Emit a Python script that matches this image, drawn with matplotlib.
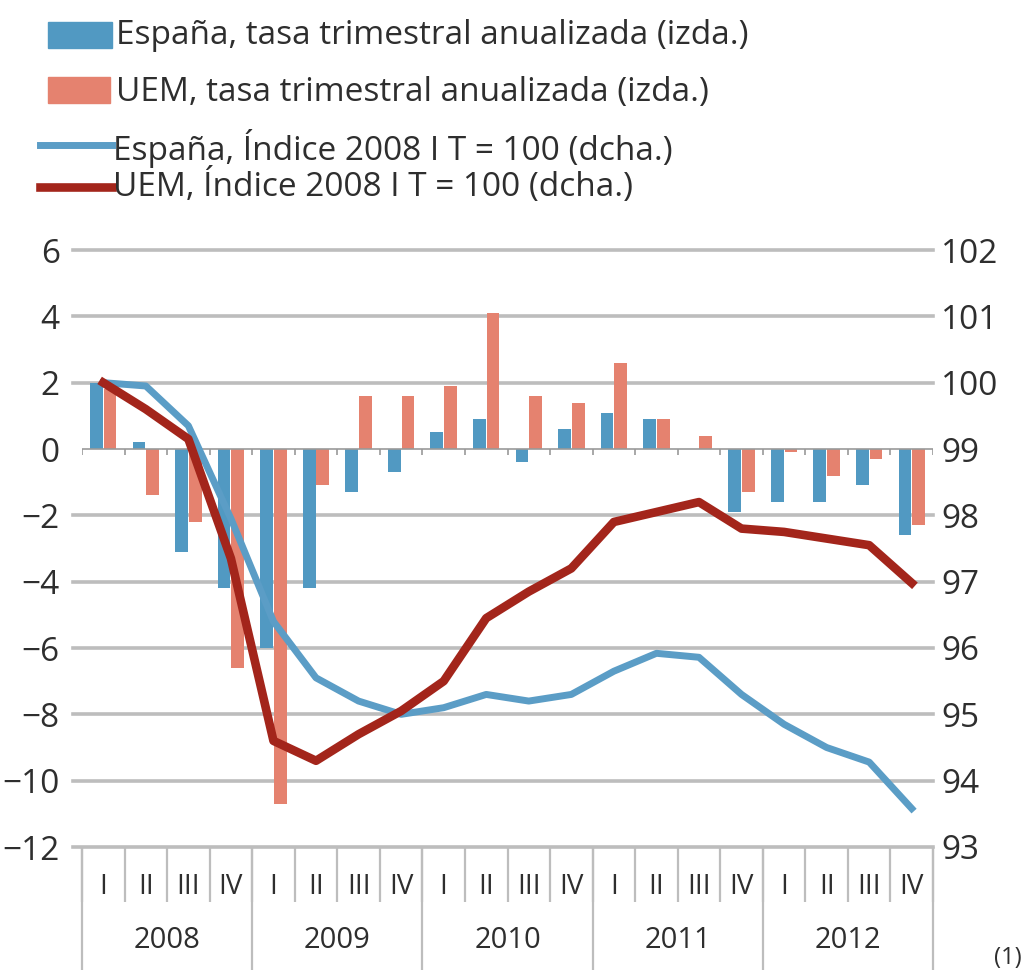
import numpy as np
import matplotlib
matplotlib.use("Agg")
import matplotlib.pyplot as plt
from matplotlib.patches import Rectangle

# ---------------------------------------------------------
# data
# ---------------------------------------------------------
years = ["2008", "2009", "2010", "2011", "2012"]
quarters = ["I", "II", "III", "IV"]

# annualised quarterly rate (left axis)
spain_rate = [2.0, 0.2, -3.1, -4.2, -6.0, -4.2, -1.3, -0.7,
              0.5, 0.9, -0.4, 0.6, 1.1, 0.9, 0.0, -1.9,
              -1.6, -1.6, -1.1, -2.6]
uem_rate = [1.8, -1.4, -2.2, -6.6, -10.7, -1.1, 1.6, 1.6,
            1.9, 4.1, 1.6, 1.4, 2.6, 0.9, 0.4, -1.3,
            -0.1, -0.8, -0.3, -2.3]

# index 2008 I T = 100 (right axis)
spain_idx = [100.0, 99.95, 99.35, 97.95, 96.4, 95.55, 95.2, 95.0,
             95.1, 95.3, 95.2, 95.3, 95.65, 95.92, 95.86, 95.3,
             94.85, 94.5, 94.28, 93.58]
uem_idx = [100.0, 99.6, 99.15, 97.35, 94.6, 94.3, 94.7, 95.05,
           95.5, 96.45, 96.85, 97.2, 97.9, 98.05, 98.2, 97.8,
           97.75, 97.65, 97.55, 96.98]

c_spain_bar = "#5199c2"
c_uem_bar = "#e5826f"
c_spain_line = "#5b9dc6"
c_uem_line = "#a3251b"
c_grid = "#bdbdbd"
c_text = "#2e2e2e"

plt.rcParams["font.family"] = ["Open Sans", "DejaVu Sans"]

fig = plt.figure(figsize=(10.32, 9.8), dpi=100)
ax = fig.add_axes([82 / 1032, 1 - 847 / 980, (933 - 82) / 1032, (847 - 250) / 980])
ax2 = ax.twinx()

n = len(spain_rate)
x = np.arange(n)

# gridlines
for v in [6, 4, 2, -2, -4, -6, -8, -10, -12]:
    ax.axhline(v, color=c_grid, lw=2.6, zorder=0, xmin=-0.01, clip_on=False)
ax.axhline(0, color="#999999", lw=1.2, zorder=3)
ax.vlines(np.arange(-0.5, n, 1.0), -0.18, 0, color="#999999", lw=1.2, zorder=3)

# bars
w = 0.3
ax.bar(x - 0.16, spain_rate, width=w, color=c_spain_bar, zorder=2)
ax.bar(x + 0.16, uem_rate, width=w, color=c_uem_bar, zorder=2)

# lines
ax2.plot(x, spain_idx, color=c_spain_line, lw=5, zorder=4)
ax2.plot(x, uem_idx, color=c_uem_line, lw=6.2, zorder=5)

ax.set_xlim(-0.5, n - 0.5)
ax.set_ylim(-12, 6)
ax2.set_ylim(93, 102)
ax.set_yticks(range(-12, 7, 2))
ax2.set_yticks(range(93, 103))
ax.set_xticks([])
for a in (ax, ax2):
    for s in a.spines.values():
        s.set_visible(False)
ax.tick_params(axis="y", length=0, pad=16, labelsize=24, labelcolor=c_text)
ax2.tick_params(axis="y", length=0, pad=6, labelsize=24, labelcolor=c_text)
ax2.set_zorder(ax.get_zorder() + 1)
ax2.patch.set_visible(False)

# category axis: quarters and years
tr = ax.get_xaxis_transform()
ax.vlines(np.arange(-0.5, n, 1.0), -0.092, 0, transform=tr, color=c_grid,
          lw=1.6, clip_on=False)
ax.vlines(np.arange(-0.5, n, 4.0), -0.206, 0, transform=tr, color=c_grid,
          lw=1.6, clip_on=False)
for i in range(n):
    ax.text(i, -0.067, quarters[i % 4], transform=tr, ha="center", va="center",
            fontsize=20, color=c_text)
for j, yr in enumerate(years):
    ax.text(4 * j + 1.5, -0.156, yr, transform=tr, ha="center", va="center",
            fontsize=21, color=c_text)

# legend drawn in pixel coordinates
lg = fig.add_axes([0, 0, 1, 1])
lg.set_xlim(0, 1032)
lg.set_ylim(980, 0)
lg.axis("off")
lg.patch.set_visible(False)
lg.add_patch(Rectangle((48, 22), 64, 26, color=c_spain_bar))
lg.add_patch(Rectangle((48, 77), 62, 26, color=c_uem_bar))
lg.plot([40, 112], [145, 145], color=c_spain_line, lw=5)
lg.plot([40, 112], [187, 187], color=c_uem_line, lw=6.2)
labels = ["España, tasa trimestral anualizada (izda.)",
          "UEM, tasa trimestral anualizada (izda.)",
          "España, Índice 2008 I T = 100 (dcha.)",
          "UEM, Índice 2008 I T = 100 (dcha.)"]
for (tx, ty), lab in zip([(116, 35), (116, 92), (113, 148), (113, 186)], labels):
    lg.text(tx, ty, lab, ha="left", va="center", fontsize=24, color=c_text)
lg.text(1008, 958, "(1)", ha="center", va="center", fontsize=17, color=c_text)

fig.savefig("out.png", dpi=100, facecolor="white")
